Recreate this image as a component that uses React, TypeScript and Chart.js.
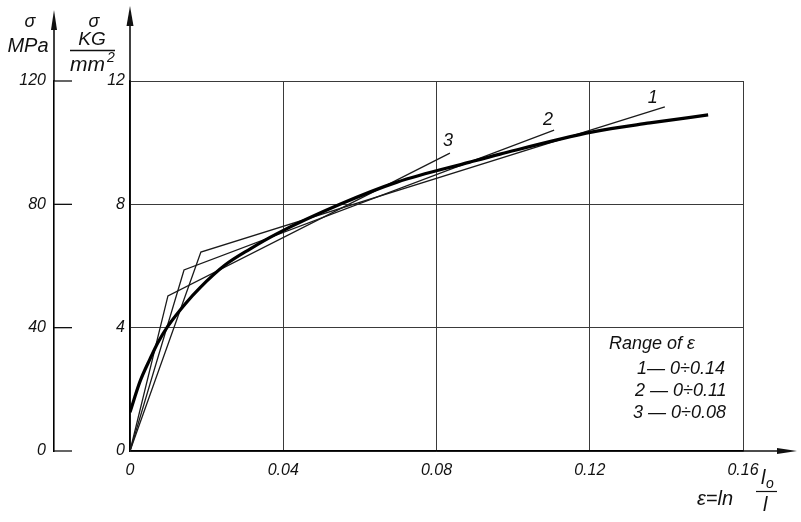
import React, { useEffect, useRef } from 'react';
import { Chart, registerables } from 'chart.js';

Chart.register(...registerables);

// ---- data ----
const strainMain = [0, 0.0026, 0.0052, 0.0073, 0.0099, 0.0144, 0.0183, 0.0248, 0.0313, 0.0384, 0.0548, 0.0697, 0.0887, 0.0966, 0.1208, 0.1357, 0.1509];
const stressMain = [1.26, 2.25, 2.98, 3.52, 4.05, 4.77, 5.3, 6.03, 6.55, 7.05, 8.0, 8.72, 9.37, 9.63, 10.35, 10.64, 10.9];

const line1Strain = [0, 0.0185, 0.1396];
const line1Stress = [0, 6.45, 11.16];
const line2Strain = [0, 0.0141, 0.1107];
const line2Stress = [0, 5.87, 10.41];
const line3Strain = [0, 0.0099, 0.0835];
const line3Stress = [0, 5.03, 9.66];

const xTicks = [0, 0.04, 0.08, 0.12, 0.16];
const kgTicks = [0, 4, 8, 12];
const mpaTicks = [0, 40, 80, 120];

const lineLabels = ['1', '2', '3'];
const legendTitle = 'Range of ε';
const legendLines = ['1— 0÷0.14', '2 — 0÷0.11', '3 — 0÷0.08'];

const FAMILY = '"Liberation Sans", "DejaVu Sans", sans-serif';
const INK = '#111';

function pts(xs: number[], ys: number[]) {
  return xs.map((x, i) => ({ x, y: ys[i] }));
}

function arrowUp(ctx: CanvasRenderingContext2D, x: number, yFrom: number, yTip: number, len: number, hw: number) {
  ctx.beginPath();
  ctx.moveTo(x, yFrom);
  ctx.lineTo(x, yTip + len);
  ctx.stroke();
  ctx.beginPath();
  ctx.moveTo(x, yTip);
  ctx.lineTo(x - hw, yTip + len);
  ctx.lineTo(x + hw, yTip + len);
  ctx.closePath();
  ctx.fill();
}

const annotations = {
  id: 'annotations',
  afterDraw(chart: any) {
    const ctx: CanvasRenderingContext2D = chart.ctx;
    const area = chart.chartArea;
    const sx = chart.scales.x;
    const sy = chart.scales.y;
    const sm = chart.scales.y2;
    ctx.save();
    ctx.strokeStyle = INK;
    ctx.fillStyle = INK;
    ctx.lineWidth = 1.6;

    // axis extensions with arrows
    arrowUp(ctx, area.left, area.top, 6, 20, 3.5);
    arrowUp(ctx, sm.right, area.top, 10, 20, 3);
    const yb = area.bottom;
    ctx.beginPath();
    ctx.moveTo(area.right, yb);
    ctx.lineTo(777, yb);
    ctx.stroke();
    ctx.beginPath();
    ctx.moveTo(797, yb);
    ctx.lineTo(777, yb - 3);
    ctx.lineTo(777, yb + 3);
    ctx.closePath();
    ctx.fill();

    // MPa axis inward ticks
    ctx.lineWidth = 1.3;
    mpaTicks.forEach((v) => {
      const y = sm.getPixelForValue(v);
      ctx.beginPath();
      ctx.moveTo(sm.right, y);
      ctx.lineTo(sm.right + 18, y);
      ctx.stroke();
    });

    // axis titles
    ctx.textBaseline = 'middle';
    ctx.textAlign = 'center';
    ctx.font = `italic 18px ${FAMILY}`;
    ctx.fillText('σ', 30, 22);
    ctx.fillText('σ', 94, 22);
    ctx.font = `italic 20px ${FAMILY}`;
    ctx.fillText('MPa', 28, 46);
    ctx.font = `italic 19px ${FAMILY}`;
    ctx.fillText('KG', 92, 40);
    ctx.lineWidth = 1.3;
    ctx.beginPath();
    ctx.moveTo(70, 50.5);
    ctx.lineTo(115, 50.5);
    ctx.stroke();
    ctx.textAlign = 'left';
    ctx.font = `italic 21px ${FAMILY}`;
    ctx.fillText('mm', 70, 65);
    ctx.font = `italic 14px ${FAMILY}`;
    ctx.fillText('2', 107, 58);

    // curve labels near line ends
    ctx.textAlign = 'center';
    ctx.font = `italic 18px ${FAMILY}`;
    const labelPos = [
      [line1Strain[2], line1Stress[2], -12, -9],
      [line2Strain[2], line2Stress[2], -6, -10],
      [line3Strain[2], line3Stress[2], -2, -12],
    ];
    labelPos.forEach((p, i) => {
      ctx.fillText(lineLabels[i], sx.getPixelForValue(p[0]) + p[2], sy.getPixelForValue(p[1]) + p[3]);
    });

    // legend text
    ctx.textAlign = 'left';
    ctx.font = `italic 18px ${FAMILY}`;
    ctx.fillText(legendTitle, 609, 344);
    ctx.fillText(legendLines[0], 637, 369);
    ctx.fillText(legendLines[1], 635, 391);
    ctx.fillText(legendLines[2], 633, 413);

    // x-axis title  ε = ln (l0 / l)
    ctx.font = `italic 20px ${FAMILY}`;
    ctx.fillText('ε=ln', 697, 499);
    ctx.fillText('l', 761, 478);
    ctx.font = `italic 14px ${FAMILY}`;
    ctx.fillText('o', 766, 484);
    ctx.font = `italic 20px ${FAMILY}`;
    ctx.fillText('l', 763, 505);
    ctx.lineWidth = 1.2;
    ctx.beginPath();
    ctx.moveTo(756, 491.5);
    ctx.lineTo(777, 491.5);
    ctx.stroke();

    ctx.restore();
  },
};

export default function App() {
  const ref = useRef<HTMLCanvasElement>(null);

  useEffect(() => {
    const canvas = ref.current;
    if (!canvas) return;
    const tickFont = { family: FAMILY, size: 16, style: 'italic' as const };
    const thin = { borderColor: '#1a1a1a', borderWidth: 1.3, pointRadius: 0, tension: 0, fill: false, yAxisID: 'y' };
    const chart = new Chart(canvas, {
      type: 'line',
      data: {
        datasets: [
          { label: 'σ–ε', data: pts(strainMain, stressMain), borderColor: '#000', borderWidth: 3.2, pointRadius: 0, cubicInterpolationMode: 'monotone', fill: false, yAxisID: 'y' } as any,
          { label: '1', data: pts(line1Strain, line1Stress), ...thin },
          { label: '2', data: pts(line2Strain, line2Stress), ...thin },
          { label: '3', data: pts(line3Strain, line3Stress), ...thin },
        ],
      },
      options: {
        responsive: false,
        animation: false,
        layout: { padding: { left: 8, right: 58, top: 81, bottom: 41 } },
        plugins: { legend: { display: false }, tooltip: { enabled: false } },
        scales: {
          x: {
            type: 'linear',
            min: 0,
            max: 0.16,
            afterBuildTicks: (s: any) => { s.ticks = xTicks.map((v) => ({ value: v })); },
            afterFit: (s: any) => { s.height = 30; },
            ticks: {
              font: tickFont,
              color: INK,
              padding: 10,
              maxRotation: 0,
              autoSkip: false,
              callback: (v: any) => (Number(v) === 0 ? '0' : Number(v).toFixed(2)),
            },
            grid: { color: '#3a3a3a', lineWidth: 1, drawTicks: false },
            border: { display: true, color: '#000', width: 1.6 },
          },
          y: {
            type: 'linear',
            position: 'left',
            weight: 0,
            min: 0,
            max: 12,
            afterBuildTicks: (s: any) => { s.ticks = kgTicks.map((v) => ({ value: v })); },
            afterFit: (s: any) => { s.width = 76; },
            ticks: { font: tickFont, color: INK, padding: 5, autoSkip: false },
            grid: { color: '#3a3a3a', lineWidth: 1, drawTicks: false },
            border: { display: true, color: '#000', width: 1.6 },
          },
          y2: {
            type: 'linear',
            position: 'left',
            weight: 1,
            min: 0,
            max: 120,
            afterBuildTicks: (s: any) => { s.ticks = mpaTicks.map((v) => ({ value: v })); },
            afterFit: (s: any) => { s.width = 46; },
            ticks: { font: tickFont, color: INK, padding: 8, autoSkip: false },
            grid: { drawOnChartArea: false, drawTicks: false, color: 'rgba(0,0,0,0)' },
            border: { display: true, color: '#000', width: 1.6 },
          },
        },
      } as any,
      plugins: [annotations],
    });
    return () => chart.destroy();
  }, []);

  return (
    <div style={{ position: 'absolute', left: 0, top: 0, width: 801, height: 522, background: '#fff' }}>
      <canvas ref={ref} width={801} height={522} style={{ display: 'block', width: 801, height: 522 }} />
    </div>
  );
}
